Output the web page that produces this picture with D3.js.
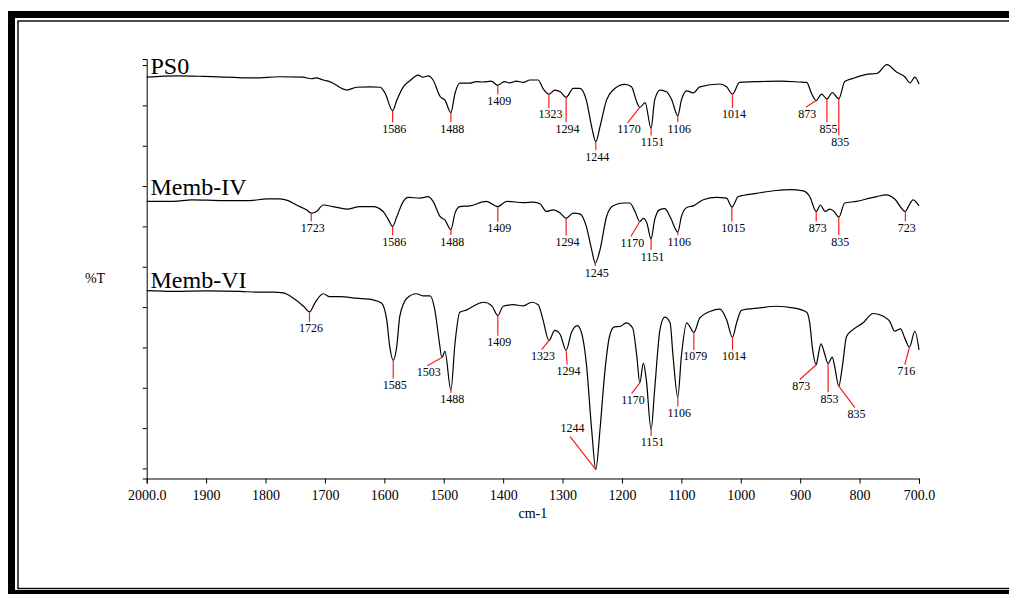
<!DOCTYPE html>
<html>
<head>
<meta charset="utf-8">
<script src="https://cdnjs.cloudflare.com/ajax/libs/d3/7.8.5/d3.min.js"></script>
<style>
  body { margin: 0; background: #fff; }
  svg text { font-family: "Liberation Serif", "Times New Roman", serif !important; fill: #000; }
</style>
</head>
<body>
<div id="chart"></div>
<script>
const FRAME_WIDTH = 1009;
const FRAME_HEIGHT = 594;
const PLOT = {left: 146.7, right: 919, top: 59, bottom: 478.5};
const SERIF = "'Liberation Serif', 'Times New Roman', serif";

// axis ticks
const X_TICKS = [2000, 1900, 1800, 1700, 1600, 1500, 1400, 1300, 1200, 1100, 1000, 900, 800, 700];
const Y_TICKS = [0, 10, 20, 30, 40, 50, 60, 70, 80, 90, 100];

const SERIES_NAMES = ["PS0", "Memb-IV", "Memb-VI"];

// [wavenumber cm-1, %T]
const PS0 = [[2000,97.0],[1949,97.3],[1905,97.2],[1818,96.8],[1776,97.1],[1737,97.0],[1723,96.6],[1715,96.8],
  [1703,96.3],[1692,95.9],[1663,93.8],[1647,94.5],[1624,94.6],[1607,94.5],[1599,93.1],[1586,88.7],[1579,91.3],
  [1568,94.6],[1557,96.1],[1543,97.5],[1535,97.0],[1526,97.3],[1518,96.3],[1506,92.2],[1498,91.3],[1488,88.2],
  [1481,93.0],[1473,95.5],[1456,95.5],[1445,95.9],[1434,95.8],[1420,96.0],[1409,95.0],[1398,95.9],[1389,95.6],
  [1378,96.0],[1366,95.7],[1355,96.3],[1341,96.3],[1333,94.2],[1323,92.8],[1313,93.8],[1304,93.4],[1294,92.0],
  [1282,94.2],[1271,94.2],[1260,91.3],[1251,84.7],[1244,81.0],[1237,84.7],[1226,91.3],[1215,93.8],[1195,95.2],
  [1184,94.6],[1175,90.8],[1170,89.5],[1161,90.7],[1151,84.3],[1145,91.3],[1136,93.8],[1125,93.4],[1116,91.3],
  [1106,87.4],[1100,91.3],[1091,93.6],[1080,93.1],[1069,94.6],[1035,95.3],[1024,94.6],[1014,92.8],[1002,95.7],
  [968,95.9],[934,96.0],[901,95.8],[889,95.7],[881,93.0],[873,91.2],[864,92.8],[855,91.6],[846,93.2],[835,91.6],
  [825,95.9],[811,96.7],[788,97.7],[771,97.9],[754,100.1],[738,98.3],[724,97.1],[715,95.6],[707,97.0],[700,95.3]];

const MEMB_IV = [[2000,66.2],[1955,66.2],[1924,66.6],[1871,66.4],[1826,66.4],[1798,66.8],[1776,66.8],[1762,66.4],
  [1748,65.3],[1731,64.1],[1723,63.3],[1714,63.7],[1703,65.3],[1686,64.9],[1663,64.3],[1641,64.9],[1619,64.9],
  [1602,63.7],[1593,61.6],[1586,60.0],[1579,62.4],[1568,66.2],[1560,67.2],[1540,67.0],[1526,67.4],[1518,66.2],
  [1506,62.4],[1498,61.6],[1488,59.2],[1481,63.3],[1473,64.9],[1456,65.1],[1428,66.2],[1409,64.9],[1394,66.2],
  [1366,65.9],[1349,66.0],[1338,65.6],[1327,63.7],[1316,64.1],[1304,63.3],[1294,62.0],[1282,63.3],[1271,63.1],
  [1260,60.0],[1251,54.2],[1245,50.9],[1237,54.2],[1226,62.4],[1215,65.1],[1198,65.8],[1187,65.8],[1178,63.7],
  [1170,61.2],[1164,62.0],[1158,60.8],[1151,56.9],[1145,61.6],[1137,64.1],[1128,64.4],[1119,62.4],[1106,58.6],
  [1100,62.4],[1091,64.7],[1080,65.1],[1063,66.6],[1041,67.2],[1024,67.0],[1015,64.8],[1004,67.4],[973,68.2],
  [940,68.9],[917,69.1],[895,68.8],[884,67.4],[873,63.7],[866,65.3],[858,63.7],[850,64.3],[843,63.7],[835,62.3],
  [825,65.8],[805,66.2],[783,67.0],[771,67.4],[755,67.8],[741,66.8],[723,63.7],[718,64.9],[710,66.6],[700,65.1]];

const MEMB_VI = [[2000,44.1],[1955,43.9],[1899,44.0],[1843,43.9],[1815,43.7],[1787,43.7],[1770,43.5],[1753,42.2],
  [1736,40.2],[1726,38.8],[1717,41.0],[1703,43.3],[1692,42.6],[1675,42.6],[1647,42.2],[1619,41.8],[1605,41.0],
  [1596,36.9],[1591,30.3],[1585,26.8],[1579,30.3],[1574,37.7],[1562,42.2],[1546,43.3],[1535,42.8],[1523,42.8],
  [1515,39.3],[1508,31.9],[1503,27.5],[1498,29.0],[1488,19.4],[1481,31.1],[1473,38.7],[1461,39.3],[1450,40.2],
  [1439,41.0],[1433,41.2],[1419,40.3],[1409,37.9],[1400,40.2],[1383,40.6],[1366,40.3],[1352,41.2],[1341,40.6],
  [1333,36.9],[1323,31.7],[1313,34.2],[1304,33.2],[1294,29.3],[1285,33.7],[1275,35.4],[1268,33.6],[1260,26.1],
  [1251,9.6],[1244,-0.3],[1237,9.6],[1229,23.7],[1221,32.7],[1213,35.1],[1203,35.2],[1193,36.1],[1182,34.8],
  [1175,27.8],[1170,21.2],[1164,26.1],[1159,22.0],[1151,9.6],[1145,19.5],[1136,34.4],[1128,37.5],[1119,36.1],
  [1114,27.8],[1106,17.7],[1100,27.8],[1091,36.1],[1086,35.2],[1079,33.7],[1069,37.3],[1052,38.9],[1035,39.5],
  [1024,36.9],[1014,32.5],[1007,36.1],[999,39.2],[968,39.8],[940,40.2],[912,39.8],[889,38.7],[884,36.1],
  [879,29.4],[873,25.7],[870,27.8],[865,30.9],[860,29.0],[853,26.0],[846,27.6],[842,25.3],[835,20.4],[829,25.3],
  [822,32.7],[811,34.4],[794,36.1],[777,38.4],[760,37.7],[749,36.4],[741,34.0],[731,34.6],[724,32.3],[716,30.1],
  [707,34.0],[700,29.4]];

// labelled peaks (wavenumbers)
const PS0_PEAKS = [1586, 1488, 1409, 1323, 1294, 1244, 1170, 1151, 1106, 1014, 873, 855, 835];
const MEMB_IV_PEAKS = [1723, 1586, 1488, 1409, 1294, 1245, 1170, 1151, 1106, 1015, 873, 835, 723];
const MEMB_VI_PEAKS = [1726, 1585, 1503, 1488, 1409, 1323, 1294, 1244, 1170, 1151, 1106, 1079, 1014, 873, 853, 835, 716];

// leader line end offsets in px [dx, dy, (text dx, text dy)]
const PS0_LEADERS = [[0,11.5],[0,9.5],[0,9.2],[0,13.8],[0,24.9],[0,8.5],[-12.2,15.4],[0,7.2],[0,6.2],[0,13.8],
  [-10.4,6.6],[0,23.2],[0,36.5]];
const MEMB_IV_LEADERS = [[0,8.5],[0,8.8],[0,5.5],[0,15.1],[0,17.2],[0,3],[-8.9,15],[0,11.2],[0,3.2],[0,14.5],
  [0,10.1],[0,18.2],[0,10.1]];
const MEMB_VI_LEADERS = [[0,9.9],[0,18.1],[-14.7,8.3],[0,2.5],[0,20.2],[-7.3,9],[1,14.3],[-25.9,-33.3,2.7,-4],
  [-8.2,10.7],[0,6.2],[0,9.5],[0,17.5],[0,12.5],[-16.4,14.7],[0,28.8],[16.1,21.6],[-4.7,17.7]];

const NAME_BASELINES = [74, 194.5, 287.5];

const SVG = d3.select("#chart")
  .append("svg")
    .attr("width", FRAME_WIDTH)
    .attr("height", FRAME_HEIGHT)
    .style("font-family", SERIF);

// double border frame
SVG.append("rect").attr("x", 8).attr("y", 11).attr("width", 1100).attr("height", 700).attr("fill", "#000");
SVG.append("rect").attr("x", 15).attr("y", 18).attr("width", 1100).attr("height", 572).attr("fill", "#fff");
SVG.append("rect").attr("x", 18).attr("y", 21).attr("width", 1100).attr("height", 567.5)
  .attr("fill", "none").attr("stroke", "#000").attr("stroke-width", 1.4);

const X_SCALE = d3.scaleLinear()
                  .domain([2000, 700])
                  .range([PLOT.left, PLOT.right]);

const Y_SCALE = d3.scaleLinear()
                  .domain([-2.5, 101.5])
                  .range([PLOT.bottom, PLOT.top]);

// axes
const xAxis = SVG.append("g")
  .attr("transform", "translate(0," + PLOT.bottom + ")")
  .call(d3.axisBottom(X_SCALE)
    .tickValues(X_TICKS)
    .tickFormat((d) => (d === 2000 || d === 700) ? d.toFixed(1) : String(d))
    .tickSize(5)
    .tickPadding(7));
xAxis.attr("font-family", SERIF).attr("font-size", 14);
xAxis.selectAll("text").style("font-family", SERIF).style("font-size", "14px");

SVG.append("g")
  .attr("transform", "translate(" + PLOT.left + ",0)")
  .call(d3.axisLeft(Y_SCALE)
    .tickValues(Y_TICKS)
    .tickFormat("")
    .tickSizeInner(4)
    .tickSizeOuter(4));

SVG.selectAll(".domain, .tick line").attr("stroke", "#000").attr("stroke-width", 1);

SVG.append("text")
  .attr("x", (PLOT.left + PLOT.right) / 2)
  .attr("y", 518)
  .attr("text-anchor", "middle")
  .style("font-size", "14px")
  .text("cm-1");

SVG.append("text")
  .attr("x", 95)
  .attr("y", 283)
  .attr("text-anchor", "middle")
  .style("font-size", "14px")
  .text("%T");

const LINE = d3.line()
  .x((d) => X_SCALE(d[0]))
  .y((d) => Y_SCALE(d[1]))
  .curve(d3.curveMonotoneX);

function drawSpectrum(points, peaks, leaders, name, nameY) {
  SVG.append("path")
    .datum(points)
    .attr("d", LINE)
    .attr("fill", "none")
    .attr("stroke", "#000")
    .attr("stroke-width", 1.2);

  SVG.append("text")
    .attr("x", 150.5)
    .attr("y", nameY)
    .style("font-size", "24px")
    .text(name);

  peaks.forEach((w, i) => {
    const pt = points.find((p) => p[0] === w);
    const px = X_SCALE(w);
    const py = Y_SCALE(pt[1]);
    const lead = leaders[i];
    const ex = px + lead[0];
    const ey = py + lead[1];
    const tdx = lead.length > 2 ? lead[2] : 1.5;
    const tdy = lead.length > 2 ? lead[3] : 10.5;

    SVG.append("line")
      .attr("x1", px).attr("y1", py)
      .attr("x2", ex).attr("y2", ey)
      .attr("stroke", "#ff1a1a")
      .attr("stroke-width", 1.2);

    SVG.append("text")
      .attr("x", ex + tdx)
      .attr("y", ey + tdy)
      .attr("text-anchor", "middle")
      .style("font-size", "12px")
      .text(w);
  });
}

drawSpectrum(PS0, PS0_PEAKS, PS0_LEADERS, SERIES_NAMES[0], NAME_BASELINES[0]);
drawSpectrum(MEMB_IV, MEMB_IV_PEAKS, MEMB_IV_LEADERS, SERIES_NAMES[1], NAME_BASELINES[1]);
drawSpectrum(MEMB_VI, MEMB_VI_PEAKS, MEMB_VI_LEADERS, SERIES_NAMES[2], NAME_BASELINES[2]);
</script>
</body>
</html>
